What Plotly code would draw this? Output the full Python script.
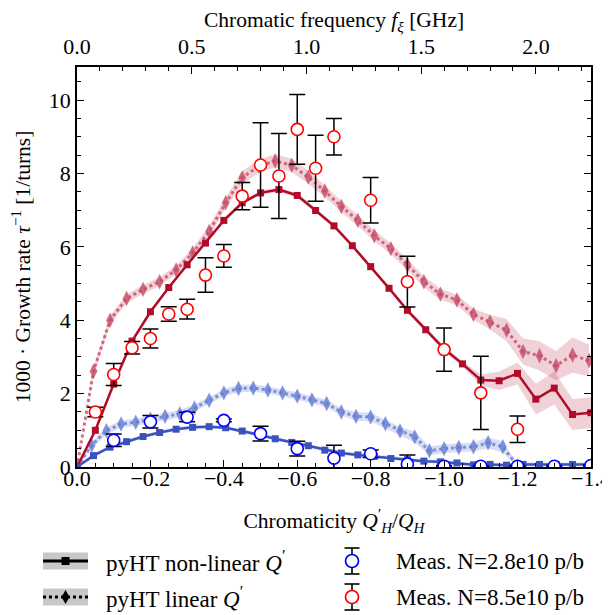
import plotly.graph_objects as go

# ---------------- data ----------------
# pyHT non-linear Q' (red, N=8.5e10)
q_nl_red = [0, -0.05, -0.10, -0.15, -0.20, -0.25, -0.30, -0.35, -0.40, -0.45, -0.50, -0.55, -0.60, -0.65,
            -0.70, -0.75, -0.80, -0.85, -0.90, -0.95, -1.00, -1.05, -1.10, -1.15, -1.20, -1.25, -1.30, -1.35, -1.40]
g_nl_red = [0, 1.00, 2.26, 3.43, 4.23, 4.89, 5.51, 6.10, 6.72, 7.20, 7.47, 7.56, 7.40, 6.99,
            6.57, 6.03, 5.46, 4.87, 4.27, 3.74, 3.22, 2.81, 2.37, 2.35, 2.55, 1.85, 2.15, 1.43, 1.48]
e_nl_red = [0, 0.05, 0.05, 0.05, 0.05, 0.05, 0.05, 0.05, 0.05, 0.06, 0.06, 0.06, 0.06, 0.06,
            0.06, 0.06, 0.06, 0.06, 0.06, 0.06, 0.07, 0.08, 0.15, 0.25, 0.30, 0.42, 0.45, 0.42, 0.42]

# pyHT linear Q' (red)
q_lin_red = [0, -0.045, -0.09, -0.135, -0.18, -0.225, -0.27, -0.315, -0.36, -0.405, -0.45, -0.495, -0.54,
             -0.585, -0.63, -0.675, -0.72, -0.765, -0.81, -0.855, -0.90, -0.945, -0.99, -1.035, -1.08,
             -1.125, -1.17, -1.215, -1.26, -1.305, -1.35, -1.395]
g_lin_red = [0, 2.61, 4.00, 4.59, 4.84, 5.05, 5.37, 5.83, 6.42, 7.20, 7.88, 8.20, 8.34,
             8.22, 7.90, 7.52, 7.10, 6.72, 6.30, 5.95, 5.51, 5.05, 4.71, 4.55, 4.16,
             3.95, 3.73, 3.15, 3.03, 2.76, 3.05, 2.90]
e_lin_red = [0, 0.10, 0.12, 0.12, 0.12, 0.12, 0.12, 0.13, 0.15, 0.15, 0.18, 0.18, 0.18,
             0.18, 0.18, 0.16, 0.15, 0.15, 0.15, 0.15, 0.15, 0.15, 0.15, 0.15, 0.15,
             0.20, 0.30, 0.36, 0.40, 0.40, 0.48, 0.43]

# pyHT non-linear Q' (blue, N=2.8e10)
q_nl_blue = [0, -0.045, -0.09, -0.135, -0.18, -0.225, -0.27, -0.315, -0.36, -0.405, -0.45, -0.495, -0.54,
             -0.585, -0.63, -0.675, -0.72, -0.765, -0.81, -0.855, -0.90, -0.945, -0.99, -1.035, -1.08,
             -1.125, -1.17, -1.215, -1.26, -1.305, -1.35, -1.395]
g_nl_blue = [0, 0.31, 0.54, 0.69, 0.83, 0.94, 1.03, 1.08, 1.10, 1.07, 0.98, 0.88, 0.77,
             0.67, 0.58, 0.46, 0.38, 0.33, 0.29, 0.23, 0.20, 0.16, 0.14, 0.11, 0.06,
             0.07, 0.05, 0.07, 0.07, 0.07, 0.07, 0.07]
e_nl_blue = [0] + [0.05] * 31

# pyHT linear Q' (blue)
q_lin_blue = [0, -0.04, -0.08, -0.12, -0.16, -0.20, -0.24, -0.28, -0.32, -0.36, -0.40, -0.44, -0.48,
              -0.52, -0.56, -0.60, -0.64, -0.68, -0.72, -0.76, -0.80, -0.84, -0.88, -0.92, -0.96,
              -1.00, -1.04, -1.08, -1.12, -1.16, -1.20]
g_lin_blue = [0, 0.59, 0.99, 1.17, 1.22, 1.30, 1.38, 1.45, 1.61, 1.82, 2.02, 2.14, 2.15,
              2.10, 2.02, 1.93, 1.83, 1.73, 1.50, 1.38, 1.36, 1.18, 0.98, 0.82, 0.44,
              0.50, 0.53, 0.55, 0.66, 0.55, 0.03]
e_lin_blue = [0, 0.08, 0.10, 0.10, 0.10, 0.10, 0.10, 0.10, 0.10, 0.10, 0.10, 0.10, 0.10,
              0.10, 0.10, 0.10, 0.10, 0.10, 0.10, 0.12, 0.12, 0.12, 0.12, 0.15, 0.12,
              0.12, 0.12, 0.12, 0.15, 0.15, 0.05]

# Measurements
q_meas_red = [-0.05, -0.10, -0.15, -0.20, -0.25, -0.30, -0.35, -0.40, -0.45, -0.50, -0.55, -0.60,
              -0.65, -0.70, -0.80, -0.90, -1.00, -1.10, -1.20]
g_meas_red = [1.50, 2.52, 3.25, 3.50, 4.17, 4.30, 5.23, 5.75, 7.38, 8.23, 7.93, 9.20,
              8.14, 9.00, 7.27, 5.05, 3.20, 2.02, 1.03]
e_meas_red = [0.13, 0.30, 0.17, 0.26, 0.20, 0.27, 0.47, 0.31, 0.37, 1.15, 1.16, 0.95,
              0.90, 0.50, 0.62, 0.69, 0.59, 1.00, 0.36]

q_meas_blue = [-0.10, -0.20, -0.30, -0.40, -0.50, -0.60, -0.70, -0.80, -0.90, -1.00, -1.10, -1.20, -1.30, -1.40]
g_meas_blue = [0.73, 1.23, 1.36, 1.27, 0.91, 0.50, 0.24, 0.36, 0.08, 0.02, 0.02, 0.02, 0.02, 0.04]
e_meas_blue = [0.17, 0.17, 0.13, 0.04, 0.20, 0.20, 0.35, 0.10, 0.25, 0.02, 0.02, 0.02, 0.02, 0.02]

GHZ_PER_UNIT = 1.6   # chromatic frequency per unit of Q'/Q

legend_labels = ["pyHT non-linear <i>Q</i><sup>′</sup>", "pyHT linear <i>Q</i><sup>′</sup>",
                 "Meas. N=2.8e10 p/b", "Meas. N=8.5e10 p/b"]

# ---------------- styles ----------------
FONT = "Liberation Serif"
RED = "rgb(176,12,42)"
RED_LIN = "rgba(196,70,98,0.78)"
RED_BAND = "rgba(200,70,100,0.25)"
BLUE = "rgb(58,82,190)"
BLUE_LIN = "rgba(100,122,210,0.8)"
BLUE_BAND = "rgba(80,105,205,0.22)"

fig = go.Figure()


def band(x, y, e, color):
    lo = [a - b for a, b in zip(y, e)]
    hi = [a + b for a, b in zip(y, e)]
    fig.add_trace(go.Scatter(x=x, y=lo, mode="lines", line=dict(width=0), showlegend=False,
                             hoverinfo="skip"))
    fig.add_trace(go.Scatter(x=x, y=hi, mode="lines", line=dict(width=0), fill="tonexty",
                             fillcolor=color, showlegend=False, hoverinfo="skip"))


band(q_lin_red, g_lin_red, e_lin_red, RED_BAND)
band(q_nl_red, g_nl_red, e_nl_red, RED_BAND)
band(q_lin_blue, g_lin_blue, e_lin_blue, BLUE_BAND)
band(q_nl_blue, g_nl_blue, e_nl_blue, BLUE_BAND)

fig.add_trace(go.Scatter(x=q_lin_red, y=g_lin_red, mode="lines+markers",
                         line=dict(color=RED_LIN, width=3, dash="dot"),
                         marker=dict(symbol="diamond-tall", size=11, color=RED_LIN),
                         showlegend=False))
fig.add_trace(go.Scatter(x=q_lin_blue, y=g_lin_blue, mode="lines+markers",
                         line=dict(color=BLUE_LIN, width=3, dash="dot"),
                         marker=dict(symbol="diamond-tall", size=11, color=BLUE_LIN),
                         showlegend=False))
fig.add_trace(go.Scatter(x=q_nl_red, y=g_nl_red, mode="lines+markers",
                         line=dict(color=RED, width=2.5),
                         marker=dict(symbol="square", size=7, color=RED),
                         showlegend=False))
fig.add_trace(go.Scatter(x=q_nl_blue, y=g_nl_blue, mode="lines+markers",
                         line=dict(color=BLUE, width=2.5),
                         marker=dict(symbol="square", size=7, color=BLUE),
                         showlegend=False))

fig.add_trace(go.Scatter(x=q_meas_blue, y=g_meas_blue, mode="markers",
                         marker=dict(symbol="circle", size=12, color="white",
                                     line=dict(color="blue", width=1.6)),
                         error_y=dict(type="data", array=e_meas_blue, color="black",
                                      thickness=1.5, width=8),
                         showlegend=False))
fig.add_trace(go.Scatter(x=q_meas_red, y=g_meas_red, mode="markers",
                         marker=dict(symbol="circle", size=12, color="white",
                                     line=dict(color="red", width=1.6)),
                         error_y=dict(type="data", array=e_meas_red, color="black",
                                      thickness=1.5, width=8),
                         showlegend=False))

# invisible trace to carry the top frequency axis
fig.add_trace(go.Scatter(x=[-q * GHZ_PER_UNIT for q in q_meas_red], y=g_meas_red, xaxis="x2",
                         mode="markers", marker=dict(opacity=0), showlegend=False, hoverinfo="skip"))

# ---------------- layout ----------------
# The page body has an 8 px margin, so the figure is drawn 8 px smaller and shifted.
OFF = 8
W, H = 610 - OFF, 615 - OFF
ML, MR, MT, MB = 77 - OFF, 19, 67 - OFF, 148
PW, PH = W - ML - MR, H - MT - MB


def px(x):
    """page pixel x -> paper"""
    return (x - OFF - ML) / PW


def py(y):
    """page pixel y -> paper"""
    return (H - MB - (y - OFF)) / PH


tickfont = dict(family=FONT, size=22, color="black")
titlefont = dict(family=FONT, size=21.5, color="black")

fig.update_layout(
    width=W, height=H, margin=dict(l=ML, r=MR, t=MT, b=MB, autoexpand=False),
    paper_bgcolor="white", plot_bgcolor="white",
    font=dict(family=FONT, size=20, color="black"),
    xaxis=dict(range=[0, -1.4002], dtick=0.2, tick0=0, tickformat=".1f", ticks="inside", ticklen=7,
               tickwidth=1.2, tickcolor="black", showline=True, linecolor="black", linewidth=1.5,
               showgrid=False, zeroline=False, tickfont=tickfont, ticklabelstandoff=-9,
               ticklabeloverflow="allow",
               minor=dict(dtick=0.05, ticks="inside", ticklen=4, tickwidth=1, tickcolor="black"),
               title=dict(text="Chromaticity <i>Q</i><sup>′</sup><sub><i>H</i></sub>/<i>Q</i><sub><i>H</i></sub>",
                          font=titlefont, standoff=23)),
    xaxis2=dict(range=[0, 1.4 * GHZ_PER_UNIT], overlaying="x", side="top", dtick=0.5, tick0=0,
                tickformat=".1f", ticks="inside", ticklen=7, tickwidth=1.2, tickcolor="black",
                showline=True, linecolor="black", linewidth=1.5, showgrid=False, zeroline=False,
                tickfont=tickfont, ticklabelstandoff=2, ticklabeloverflow="allow",
                minor=dict(dtick=0.1, ticks="inside", ticklen=4, tickwidth=1, tickcolor="black"),
                title=dict(text="Chromatic frequency <i>f</i><sub><i>ξ</i></sub> [GHz]",
                           font=titlefont, standoff=2)),
    yaxis=dict(range=[0, 10.9], dtick=2, tick0=0, ticks="inside", ticklen=7, tickwidth=1.2,
               tickcolor="black", showline=True, linecolor="black", linewidth=1.5, mirror="ticks",
               showgrid=False, zeroline=False, tickfont=tickfont,
               minor=dict(dtick=0.5, ticks="inside", ticklen=4, tickwidth=1, tickcolor="black"),
               title=dict(text="1000 · Growth rate <i>τ</i><sup>−1</sup> [1/turns]",
                          font=titlefont, standoff=12)),
)

# ---------------- manual legend ----------------
shapes = []
ann = []
rows = [561, 597]
GRAY = "rgb(200,200,200)"
SX0, SX1 = 43, 88
SXC = (SX0 + SX1) / 2
for r in rows:
    shapes.append(dict(type="rect", xref="paper", yref="paper", x0=px(SX0), x1=px(SX1),
                       y0=py(r - 8.5), y1=py(r + 8.5), fillcolor=GRAY, line=dict(width=0)))
# row 1: solid line with square
shapes.append(dict(type="line", xref="paper", yref="paper", x0=px(SX0), x1=px(SX1),
                   y0=py(rows[0]), y1=py(rows[0]), line=dict(color="black", width=2.8)))
shapes.append(dict(type="rect", xref="paper", yref="paper", x0=px(SXC - 4), x1=px(SXC + 4),
                   y0=py(rows[0] - 4), y1=py(rows[0] + 4), fillcolor="black", line=dict(width=0)))
# row 2: dotted line with diamond
shapes.append(dict(type="line", xref="paper", yref="paper", x0=px(SX0), x1=px(SX1),
                   y0=py(rows[1]), y1=py(rows[1]), line=dict(color="black", width=2.8, dash="dot")))
cx, cy = SXC, rows[1]
shapes.append(dict(type="path", xref="paper", yref="paper",
                   path=f"M {px(cx)} {py(cy - 7)} L {px(cx + 4)} {py(cy)} L {px(cx)} {py(cy + 7)} "
                        f"L {px(cx - 4)} {py(cy)} Z",
                   fillcolor="black", line=dict(width=0)))
# error bar symbols
for r, col in zip(rows, ["blue", "red"]):
    x0 = 352
    shapes.append(dict(type="line", xref="paper", yref="paper", x0=px(x0), x1=px(x0),
                       y0=py(r - 13), y1=py(r + 13), line=dict(color="black", width=1.6)))
    for yy in (r - 13, r + 13):
        shapes.append(dict(type="line", xref="paper", yref="paper", x0=px(x0 - 7.5), x1=px(x0 + 7.5),
                           y0=py(yy), y1=py(yy), line=dict(color="black", width=1.6)))
    shapes.append(dict(type="circle", xref="paper", yref="paper", x0=px(x0 - 6.5), x1=px(x0 + 6.5),
                       y0=py(r - 6.5), y1=py(r + 6.5), fillcolor="white", line=dict(color=col, width=1.7)))

for (x, y), t in zip([(104, rows[0]), (104, rows[1]), (394, rows[0]), (394, rows[1])], legend_labels):
    ann.append(dict(text=t, xref="paper", yref="paper", x=px(x), y=py(y), xanchor="left",
                    yanchor="middle", showarrow=False, font=dict(family=FONT, size=23, color="black")))

fig.update_layout(shapes=shapes, annotations=ann)

fig.write_html("out.html")
